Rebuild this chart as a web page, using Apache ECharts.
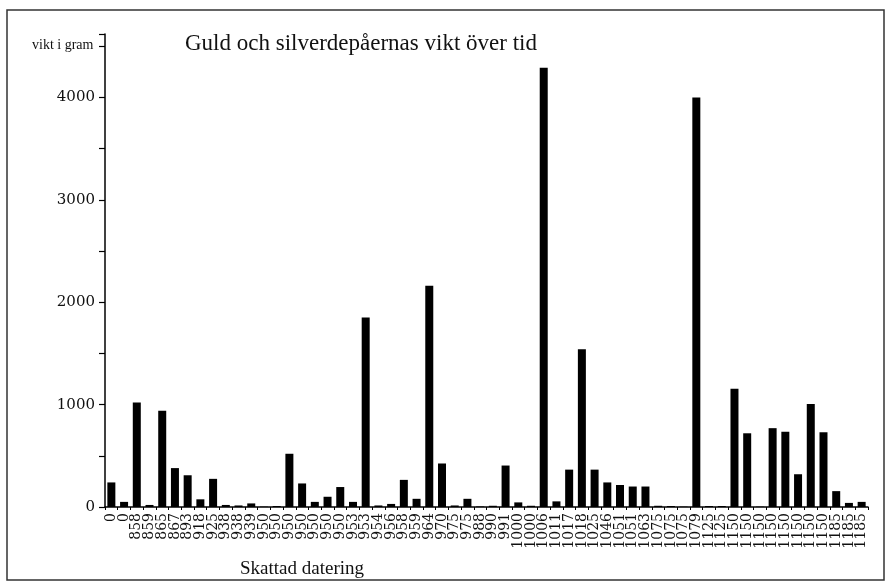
<!DOCTYPE html>
<html>
<head>
<meta charset="utf-8">
<script src="https://cdn.jsdelivr.net/npm/echarts@6/dist/echarts.min.js"></script>
<style>html,body{margin:0;padding:0;background:#fff;}#c{width:887px;height:584px;}</style>
</head>
<body>
<div id="c"></div>
<script>
const categories = ['0','0','858','859','865','867','893','918','925','938','938','939',
  '950','950','950','950','950','950','950','953','953','954','956','958','959','964',
  '970','975','975','988','990','991','1000','1000','1006','1011','1017','1018','1025',
  '1046','1051','1051','1063','1075','1075','1075','1079','1125','1125',
  '1150','1150','1150','1150','1150','1150','1150','1150','1185','1185','1185'];
const weights = [240,50,1020,20,940,380,310,75,275,20,15,35,
  3,10,520,230,50,100,195,50,1850,15,30,265,80,2160,
  425,15,80,5,12,405,45,12,4290,55,365,1540,365,
  240,215,200,200,12,10,3,4000,10,10,
  1155,720,3,770,735,320,1005,730,155,40,50];
const titleText = 'Guld och silverdepåernas vikt över tid';
const yName = 'vikt i gram';
const xName = 'Skattad datering';

const chart = echarts.init(document.getElementById('c'), null, {renderer: 'canvas'});
const serif = '"Liberation Serif", "Times New Roman", serif';
chart.setOption({
  animation: false,
  backgroundColor: '#fff',
  title: [
    {text: titleText, left: 180, top: 27, textStyle: {fontFamily: serif, fontSize: 23, fontWeight: 'normal', color: '#111'}},
    {text: yName, left: 27, top: 33, textStyle: {fontFamily: serif, fontSize: 14, fontWeight: 'normal', color: '#111'}},
    {text: xName, left: 235, top: 555, textStyle: {fontFamily: serif, fontSize: 19, fontWeight: 'normal', color: '#111'}}
  ],
  graphic: [{
    type: 'rect', shape: {x: 7, y: 10, width: 877, height: 570},
    style: {fill: 'none', stroke: '#333', lineWidth: 1.5}, z: -1
  }],
  grid: {left: 105, right: 19, top: 34, bottom: 77, containLabel: false},
  xAxis: {
    type: 'category',
    data: categories,
    axisLine: {lineStyle: {color: '#000', width: 1.5}},
    axisTick: {show: true, length: 3, lineStyle: {color: '#000', width: 1}},
    axisLabel: {interval: 0, rotate: 90, margin: 6, fontFamily: '"DejaVu Serif", serif', fontSize: 14, color: '#111'}
  },
  yAxis: {
    type: 'value',
    min: 0, max: 4620, interval: 500,
    splitLine: {show: false},
    axisLine: {show: true, lineStyle: {color: '#000', width: 1.5}},
    axisTick: {show: true, length: 6, lineStyle: {color: '#000', width: 1.2}},
    axisLabel: {
      margin: 10, fontFamily: '"DejaVu Serif", serif', fontSize: 15, color: '#111',
      formatter: v => (v % 1000 === 0 ? String(v) : '')
    }
  },
  series: [{
    type: 'bar',
    data: weights,
    barWidth: 8,
    itemStyle: {color: '#000'}
  }]
});
</script>
</body>
</html>
